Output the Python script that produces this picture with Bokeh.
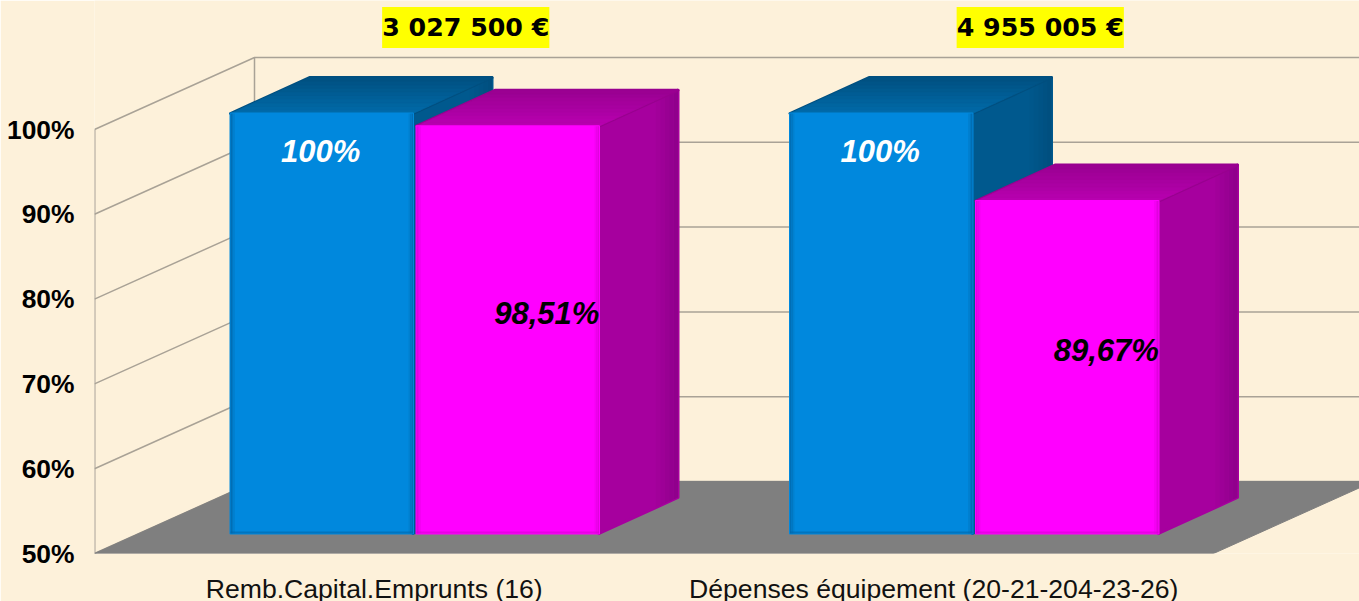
from bokeh.plotting import figure
from bokeh.models import Range1d, FixedTicker, LinearAxis
from bokeh.core.properties import value
from bokeh.embed import file_html
from bokeh.resources import INLINE

categories = ["Remb.Capital.Emprunts (16)", "Dépenses équipement (20-21-204-23-26)"]
totals = ["3 027 500 €", "4 955 005 €"]
blue_values = [100, 100]
magenta_values = [98.51, 89.67]
blue_labels = ["100%", "100%"]
magenta_labels = ["98,51%", "89,67%"]
y_ticks = [50, 60, 70, 80, 90, 100]

# layout
W, H = 1359, 601
LEFT, BOTTOM = 94, 48
PX_X = 559.5 / 1.0      # px per category
PX_Y = 424 / 50.0       # px per percent
BG = "#fdf1da"
GRID = "#a9a296"
FLOOR = "#7f7f7f"

x_end = (W - LEFT) / PX_X
y_end = 50 + (H - BOTTOM) / PX_Y

p = figure(width=W, height=H, frame_width=W - LEFT, frame_height=H - BOTTOM,
           output_backend="svg", toolbar_location=None,
           x_range=Range1d(0, x_end), y_range=Range1d(50, y_end),
           x_axis_location=None, y_axis_location=None,
           min_border_left=LEFT, min_border_bottom=BOTTOM, min_border_top=0, min_border_right=0,
           background_fill_color=BG, border_fill_color=BG, outline_line_color=None)
p.grid.visible = False


def dx(px):
    return px / PX_X


def dy(px):
    return px / PX_Y


# walls
WALL_DX, WALL_DY = 160, 72
for t in y_ticks:
    p.line([0, dx(WALL_DX), x_end], [t, t + dy(WALL_DY), t + dy(WALL_DY)],
           line_color=GRID, line_width=1.5)
p.line([0, 0], [50, 100], line_color=GRID, line_width=2)
p.line([dx(WALL_DX)] * 2, [50 + dy(WALL_DY), 100 + dy(WALL_DY)], line_color=GRID, line_width=1.5)

# floor
p.patch([0, 2, 2 + dx(WALL_DX), dx(WALL_DX)],
        [50, 50, 50 + dy(WALL_DY), 50 + dy(WALL_DY)], fill_color=FLOOR, line_color=FLOOR)


def mix(c1, c2, t):
    a = [int(c1[i:i + 2], 16) for i in (1, 3, 5)]
    b = [int(c2[i:i + 2], 16) for i in (1, 3, 5)]
    return "#%02x%02x%02x" % tuple(round(u + (v - u) * t) for u, v in zip(a, b))


# bar geometry (in px relative to the front plane of the chart)
BAR_W = 182.5 / PX_X
GAP = 3.5 / PX_X
SHIFT = 40.5 / PX_X
LIFT = dy(16)
BASE = 50 + dy(20) - LIFT
DEP_X, DEP_Y = dx(79), dy(36)


def bar(x0, val, c_front, c_edge, c_top_back, c_top_front, c_side, c_side_edge):
    x1 = x0 + BAR_W
    y0 = BASE + LIFT
    y1 = val + LIFT
    # side, with darker outer strip
    p.patch([x1, x1 + DEP_X, x1 + DEP_X, x1], [y0, y0 + DEP_Y, y1 + DEP_Y, y1],
            fill_color=c_side, line_color=c_side, line_width=3, line_join="round")
    n = 5
    for i in range(n):
        a = x1 + DEP_X * (0.72 + 0.28 * i / n)
        b = x1 + DEP_X * (0.72 + 0.28 * (i + 1) / n)
        fa = (a - x1) / DEP_X
        fb = (b - x1) / DEP_X
        col = mix(c_side, c_side_edge, (i + 1) / n)
        p.patch([a, b, b, a], [y0 + DEP_Y * fa, y0 + DEP_Y * fb, y1 + DEP_Y * fb, y1 + DEP_Y * fa],
                fill_color=col, line_color=None)
    # top, gradient from the back to the front
    n = 10
    p.patch([x0, x1, x1 + DEP_X, x0 + DEP_X], [y1, y1, y1 + DEP_Y, y1 + DEP_Y],
            fill_color=c_top_back, line_color=c_top_back, line_width=3, line_join="round")
    for i in range(n):
        fa = i / n
        fb = (i + 1) / n
        col = mix(c_top_front, c_top_back, fa)
        p.patch([x0 + DEP_X * fa, x1 + DEP_X * fa, x1 + DEP_X * fb, x0 + DEP_X * fb],
                [y1 + DEP_Y * fa, y1 + DEP_Y * fa, y1 + DEP_Y * fb, y1 + DEP_Y * fb],
                fill_color=col, line_color=col, line_width=0.6)
    # front, with soft darker edges
    p.patch([x0, x1, x1, x0], [y0, y0, y1, y1], fill_color=c_front, line_color=c_front,
            line_width=2, line_join="round")
    e = dx(1.5)
    for k in range(3):
        col = mix(c_edge, c_front, (k + 1) / 4)
        p.patch([x0 + k * e, x0 + (k + 1) * e, x0 + (k + 1) * e, x0 + k * e], [y0, y0, y1, y1],
                fill_color=col, line_color=None)
        p.patch([x1 - k * e, x1 - (k + 1) * e, x1 - (k + 1) * e, x1 - k * e], [y0, y0, y1, y1],
                fill_color=col, line_color=None)
    p.patch([x0, x1, x1, x0], [y0, y0, y0 + dy(2), y0 + dy(2)], fill_color=c_edge, line_color=None,
            fill_alpha=0.6)


for i in range(len(categories)):
    xb = i + 0.5 + SHIFT - BAR_W - GAP / 2
    xm = i + 0.5 + SHIFT + GAP / 2
    bar(xb, blue_values[i], "#0088dd", "#0066a8", "#004f7f", "#006aa8", "#00598e", "#004f7f")
    bar(xm, magenta_values[i], "#ff00ff", "#d800d4", "#98008f", "#b800b0", "#a6009e", "#90008c")

# value labels
FONT_VAL = "31px"
bx = [i + 0.5 + SHIFT - BAR_W / 2 - GAP / 2 - dx(1) for i in range(2)]
by = [v + LIFT - dy(38) for v in blue_values]
p.text(bx, by, text=blue_labels, text_color="#ffffff", text_font=value("Liberation Sans"),
       text_font_style="bold italic", text_font_size=FONT_VAL, text_align="center", text_baseline="middle")
mx = [i + 0.5 + SHIFT + GAP / 2 + BAR_W / 2 + DEP_X / 2 - dx(0.5) for i in range(2)]
my = [(BASE + v) / 2 + LIFT + DEP_Y / 2 - dy(1.5) for v in magenta_values]
p.text(mx, my, text=magenta_labels, text_color="#000000", text_font=value("Liberation Sans"),
       text_font_style="bold italic", text_font_size=FONT_VAL, text_align="center", text_baseline="middle")

# totals with yellow highlight
tx = [i + 0.5 + SHIFT + dx(51 + 15 * i) for i in range(2)]
ty = [100 + dy(102)] * 2
p.text(tx, ty, text=totals, text_color="#000000", text_font=value("DejaVu Sans"),
       text_font_style="bold", text_font_size="25.3px", text_align="center", text_baseline="middle",
       background_fill_color="#ffff00", padding=(0, 6))

# axes
yaxis = LinearAxis(ticker=FixedTicker(ticks=y_ticks),
                   major_label_overrides={t: f"{t}%" for t in y_ticks},
                   axis_line_color=None, major_tick_line_color=None, minor_tick_line_color=None,
                   major_tick_out=0, major_tick_in=0,
                   major_label_text_font="Liberation Sans", major_label_text_font_style="bold",
                   major_label_text_font_size="26.4px", major_label_text_color="#000000",
                   major_label_standoff=20)
p.add_layout(yaxis, "left")
xaxis = LinearAxis(ticker=FixedTicker(ticks=[0.5, 1.5]),
                   major_label_overrides={0.5: categories[0], 1.5: categories[1]},
                   axis_line_color=None, major_tick_line_color=None, minor_tick_line_color=None,
                   major_tick_out=0, major_tick_in=0,
                   major_label_text_font="Liberation Sans", major_label_text_font_style="normal",
                   major_label_text_font_size="26.6px", major_label_text_color="#111111",
                   major_label_standoff=20)
p.add_layout(xaxis, "below")

open("out.html", "w").write(file_html(p, INLINE))
